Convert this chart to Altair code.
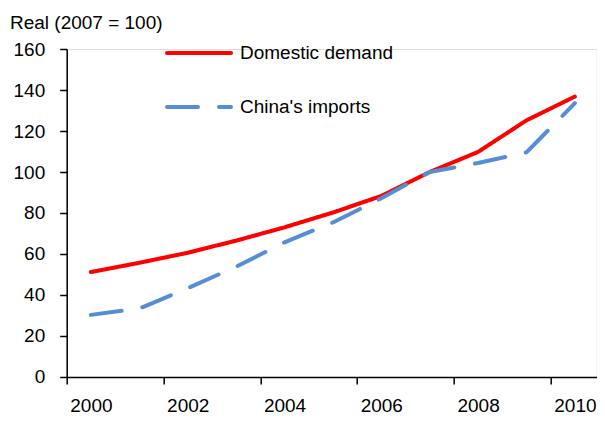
import altair as alt
import pandas as pd

years = list(range(2000, 2011))
domestic = [51.2, 55.7, 60.6, 66.5, 73.0, 80.2, 88.3, 100.0, 109.8, 125.2, 136.8]
imports = [30.3, 33.4, 43.3, 53.8, 65.7, 75.4, 87.2, 100.0, 104.4, 109.6, 133.6]
series_names = ["Domestic demand", "China's imports"]
series_colors = ["#FF0000", "#558ED5"]
series_dash = [[1, 0], [31, 21]]
y_ticks = [0, 20, 40, 60, 80, 100, 120, 140, 160]
x_ticks = [1999.5, 2001.5, 2003.5, 2005.5, 2007.5, 2009.5]
title_text = "Real (2007 = 100)"

FONT = "Liberation Sans"
FS = 19

df = pd.DataFrame({
    "year": years * 2,
    "value": domestic + imports,
    "series": [series_names[0]] * len(years) + [series_names[1]] * len(years),
})

W, H = 530, 328
STEP = 48.4
x_max = 1999.5 + W / STEP

x_enc = alt.X(
    "year:Q",
    scale=alt.Scale(domain=[1999.5, x_max], nice=False, zero=False),
    axis=alt.Axis(
        values=x_ticks, labelExpr="datum.value + 0.5", labelOffset=STEP / 2,
        title=None, grid=False, tickSize=7, labelPadding=13,
        labelFontSize=FS, labelFont=FONT, labelColor="black",
        domainColor="black", tickColor="black", domainWidth=1.5, tickWidth=1.5,
        labelFlush=False, labelOverlap=False,
    ),
)
y_enc = alt.Y(
    "value:Q",
    scale=alt.Scale(domain=[0, 160], nice=False),
    axis=alt.Axis(
        values=y_ticks, title=None, grid=False, tickSize=7, labelPadding=15,
        labelFontSize=FS, labelFont=FONT, labelColor="black",
        domainColor="black", tickColor="black", domainWidth=1.5, tickWidth=1.5,
        labelFlush=False, labelOverlap=False,
    ),
)

lines = alt.Chart(df).mark_line(strokeWidth=4, strokeCap="round", strokeJoin="round").encode(
    x=x_enc,
    y=y_enc,
    color=alt.Color("series:N", scale=alt.Scale(domain=series_names, range=series_colors), legend=None),
    strokeDash=alt.StrokeDash("series:N", scale=alt.Scale(domain=series_names, range=series_dash), legend=None),
)

layers = [lines]
legend_rows_y = [4, 58]
for name, col, dash, ly in zip(series_names, series_colors, series_dash, legend_rows_y):
    ldf = pd.DataFrame({"label": [name]})
    layers.append(
        alt.Chart(ldf).mark_rule(strokeWidth=4, strokeCap="round", color=col, strokeDash=dash).encode(
            x=alt.value(100.3), x2=alt.value(164.3), y=alt.value(ly)
        )
    )
    layers.append(
        alt.Chart(ldf).mark_text(align="left", baseline="middle", fontSize=FS, font=FONT, color="black").encode(
            text="label:N", x=alt.value(173.3), y=alt.value(ly)
        )
    )

tdf = pd.DataFrame({"t": [title_text]})
layers.append(
    alt.Chart(tdf).mark_text(align="left", baseline="middle", fontSize=FS, font=FONT, color="black").encode(
        text="t:N", x=alt.value(-56.7), y=alt.value(-26)
    )
)

chart = alt.layer(*layers).properties(
    width=W, height=H,
    autosize=alt.AutoSizeParams(type="none"),
    padding={"left": 58.7, "top": 41, "right": 0, "bottom": 38},
).configure_view(stroke=None).configure(background="white")

chart.save("out.html", embed_options={"renderer": "svg", "actions": False})
